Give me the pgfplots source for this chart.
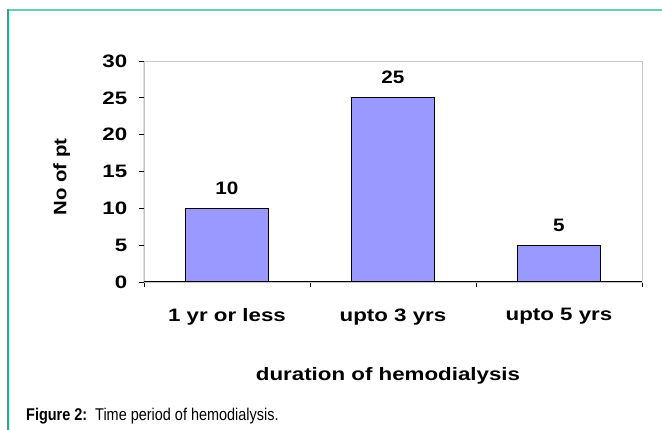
\documentclass[border=0pt]{standalone}
\usepackage{pgfplots}
\pgfplotsset{compat=1.18}
\usepackage{fontspec}
\setmainfont{Liberation Sans}
\definecolor{barfill}{RGB}{153,153,255}
\definecolor{tealtop}{RGB}{100,205,190}
\definecolor{tealleft}{RGB}{30,170,150}
\definecolor{framegray}{RGB}{200,200,200}
\begin{document}
\begin{tikzpicture}[x=1pt,y=1pt]
\path[use as bounding box] (0,0) rectangle (662,430);
\draw[tealtop, line width=2pt] (8,420) -- (662,420);
\draw[tealleft, line width=1.5pt] (8,421) -- (8,0);
\begin{axis}[
  at={(144pt,148pt)}, anchor=south west,
  scale only axis, width=498pt, height=221pt,
  xmin=0, xmax=3, ymin=0, ymax=30,
  ytick={0,5,...,30},
  xtick={0,1,2,3}, xticklabels={},
  extra x ticks={0.5,1.5,2.5},
  extra x tick labels={1 yr or less, upto 3 yrs, upto 5 yrs},
  extra x tick style={major tick length=0pt, xticklabel style={yshift=-23pt}},
  xtick pos=bottom, ytick pos=left,
  tick align=outside, major tick length=5pt,
  tick style={black, line width=0.8pt},
  axis line style={framegray, line width=0.8pt},
  /pgf/number format/assume math mode=true,
  ticklabel style={font=\bfseries\fontsize{18}{18}\selectfont, xscale=1.24},
  yticklabel style={xshift=-6pt},
  xlabel={duration of hemodialysis},
  ylabel={No of pt},
  label style={font=\bfseries\fontsize{18}{18}\selectfont},
  xlabel style={at={(axis description cs:0.49,-0.425)}, anchor=center, xscale=1.24},
  ylabel style={at={(axis description cs:-0.165,0.475)}, anchor=center, xscale=1.13},
  ybar, bar width=83pt,
  nodes near coords,
  every node near coord/.append style={font=\bfseries\fontsize{18}{18}\selectfont, xscale=1.15, yshift=10pt, black},
]
\addplot[fill=barfill, draw=black, line width=1.2pt] coordinates {(0.5,10) (1.5,25) (2.5,5)};
\draw[black, line width=1pt] (rel axis cs:0,1) -- (rel axis cs:0,0) -- (rel axis cs:1,0);
\end{axis}
\node[anchor=base west, inner sep=0pt] at (26,9) {\scalebox{0.85}[1]{\fontsize{17}{17}\selectfont\textbf{Figure 2:}\ \ Time period of hemodialysis.}};
\end{tikzpicture}
\end{document}
